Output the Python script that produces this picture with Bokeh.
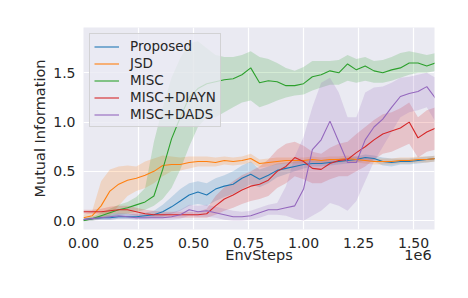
from bokeh.plotting import figure
from bokeh.models import Range1d, FixedTicker, LinearAxis, NumeralTickFormatter
from bokeh.embed import file_html
from bokeh.resources import INLINE

# x in units of 1e6 env steps
steps = [0.00, 0.04, 0.08, 0.12, 0.16, 0.20, 0.24, 0.28, 0.32, 0.36,
         0.40, 0.44, 0.48, 0.52, 0.56, 0.60, 0.64, 0.68, 0.72, 0.76,
         0.80, 0.84, 0.88, 0.92, 0.96, 1.00, 1.04, 1.08, 1.12, 1.16,
         1.20, 1.24, 1.28, 1.32, 1.36, 1.40, 1.44, 1.48, 1.52, 1.56, 1.60]

proposed = [0.01, 0.02, 0.03, 0.03, 0.04, 0.04, 0.04, 0.05, 0.06, 0.09,
            0.14, 0.20, 0.26, 0.29, 0.26, 0.32, 0.35, 0.37, 0.43, 0.47,
            0.42, 0.46, 0.51, 0.53, 0.55, 0.57, 0.58, 0.58, 0.59, 0.60,
            0.61, 0.62, 0.64, 0.63, 0.60, 0.59, 0.60, 0.60, 0.61, 0.62, 0.63]
proposed_lo = [0.00, 0.01, 0.01, 0.01, 0.02, 0.02, 0.02, 0.02, 0.03, 0.04,
               0.07, 0.10, 0.15, 0.17, 0.15, 0.20, 0.24, 0.27, 0.32, 0.37,
               0.34, 0.38, 0.44, 0.47, 0.50, 0.53, 0.55, 0.55, 0.56, 0.57,
               0.58, 0.59, 0.61, 0.60, 0.56, 0.55, 0.57, 0.57, 0.58, 0.59, 0.60]
proposed_hi = [0.02, 0.03, 0.05, 0.06, 0.07, 0.07, 0.07, 0.08, 0.10, 0.16,
               0.24, 0.32, 0.38, 0.40, 0.38, 0.43, 0.46, 0.50, 0.56, 0.60,
               0.52, 0.55, 0.58, 0.59, 0.60, 0.61, 0.61, 0.61, 0.62, 0.63,
               0.64, 0.65, 0.67, 0.66, 0.64, 0.63, 0.63, 0.63, 0.64, 0.65, 0.66]

jsd = [0.03, 0.05, 0.15, 0.30, 0.37, 0.41, 0.43, 0.46, 0.50, 0.56,
       0.57, 0.57, 0.59, 0.60, 0.60, 0.59, 0.61, 0.60, 0.61, 0.63,
       0.58, 0.59, 0.60, 0.61, 0.61, 0.61, 0.62, 0.61, 0.62, 0.62,
       0.63, 0.62, 0.61, 0.60, 0.60, 0.60, 0.61, 0.61, 0.62, 0.62, 0.63]
jsd_lo = [0.00, 0.01, 0.03, 0.05, 0.15, 0.25, 0.30, 0.33, 0.38, 0.45,
          0.50, 0.51, 0.53, 0.55, 0.55, 0.55, 0.57, 0.56, 0.57, 0.59,
          0.54, 0.55, 0.57, 0.58, 0.58, 0.58, 0.59, 0.58, 0.59, 0.59,
          0.60, 0.59, 0.58, 0.57, 0.57, 0.57, 0.58, 0.58, 0.59, 0.59, 0.60]
jsd_hi = [0.06, 0.10, 0.40, 0.52, 0.55, 0.56, 0.55, 0.60, 0.63, 0.66,
          0.65, 0.64, 0.65, 0.65, 0.65, 0.64, 0.65, 0.64, 0.65, 0.68,
          0.62, 0.63, 0.64, 0.64, 0.64, 0.64, 0.65, 0.64, 0.65, 0.65,
          0.66, 0.65, 0.64, 0.63, 0.63, 0.63, 0.64, 0.64, 0.65, 0.65, 0.66]

misc = [0.00, 0.02, 0.05, 0.08, 0.11, 0.13, 0.16, 0.19, 0.25, 0.52,
        0.83, 1.05, 1.25, 1.34, 1.39, 1.41, 1.43, 1.44, 1.48, 1.55,
        1.40, 1.42, 1.41, 1.37, 1.37, 1.39, 1.46, 1.48, 1.52, 1.50,
        1.59, 1.53, 1.57, 1.52, 1.50, 1.53, 1.55, 1.60, 1.60, 1.57, 1.60]
misc_lo = [0.00, 0.00, 0.02, 0.04, 0.06, 0.07, 0.09, 0.11, 0.15, 0.22,
           0.33, 0.52, 0.75, 0.95, 1.05, 1.05, 1.10, 1.15, 1.20, 1.22,
           1.15, 1.18, 1.22, 1.25, 1.27, 1.28, 1.32, 1.35, 1.38, 1.38,
           1.42, 1.40, 1.42, 1.40, 1.40, 1.42, 1.45, 1.48, 1.50, 1.50, 1.52]
misc_hi = [0.02, 0.04, 0.08, 0.12, 0.16, 0.19, 0.24, 0.33, 0.80, 1.15,
           1.45, 1.65, 1.80, 1.82, 1.75, 1.68, 1.66, 1.66, 1.68, 1.72,
           1.66, 1.64, 1.60, 1.55, 1.52, 1.56, 1.62, 1.62, 1.62, 1.63,
           1.68, 1.64, 1.66, 1.62, 1.63, 1.66, 1.70, 1.72, 1.70, 1.68, 1.70]

diayn = [0.09, 0.09, 0.09, 0.10, 0.11, 0.11, 0.09, 0.07, 0.06, 0.06,
         0.06, 0.06, 0.06, 0.06, 0.07, 0.15, 0.22, 0.26, 0.31, 0.35,
         0.37, 0.41, 0.50, 0.55, 0.64, 0.60, 0.53, 0.52, 0.58, 0.61,
         0.62, 0.69, 0.75, 0.82, 0.88, 0.91, 0.94, 1.00, 0.84, 0.90, 0.94]
diayn_lo = [0.07, 0.07, 0.07, 0.07, 0.07, 0.07, 0.05, 0.04, 0.03, 0.03,
            0.03, 0.03, 0.03, 0.03, 0.03, 0.06, 0.10, 0.13, 0.17, 0.20,
            0.22, 0.25, 0.33, 0.38, 0.45, 0.42, 0.38, 0.38, 0.42, 0.45,
            0.45, 0.50, 0.55, 0.62, 0.68, 0.70, 0.74, 0.78, 0.64, 0.70, 0.72]
diayn_hi = [0.11, 0.11, 0.12, 0.14, 0.15, 0.15, 0.13, 0.11, 0.10, 0.09,
            0.09, 0.09, 0.09, 0.09, 0.12, 0.25, 0.34, 0.40, 0.46, 0.50,
            0.55, 0.62, 0.72, 0.78, 0.80, 0.76, 0.70, 0.68, 0.74, 0.78,
            0.80, 0.88, 0.95, 1.02, 1.08, 1.10, 1.14, 1.20, 1.05, 1.12, 1.15]

dads = [0.01, 0.02, 0.03, 0.04, 0.05, 0.04, 0.03, 0.03, 0.03, 0.03,
        0.04, 0.06, 0.11, 0.09, 0.10, 0.08, 0.06, 0.04, 0.04, 0.05,
        0.08, 0.11, 0.11, 0.13, 0.15, 0.32, 0.72, 0.82, 1.01, 0.80,
        0.59, 0.59, 0.82, 0.95, 1.03, 1.15, 1.26, 1.29, 1.31, 1.36, 1.24]
dads_lo = [0.00, 0.00, 0.01, 0.01, 0.02, 0.02, 0.01, 0.01, 0.01, 0.01,
           0.01, 0.02, 0.05, 0.04, 0.04, 0.03, 0.01, 0.00, 0.00, 0.01,
           0.03, 0.06, 0.06, 0.05, 0.02, 0.00, 0.05, 0.10, 0.18, 0.15,
           0.10, 0.20, 0.40, 0.60, 0.75, 0.90, 1.05, 1.10, 1.12, 1.15, 1.00]
dads_hi = [0.02, 0.04, 0.05, 0.07, 0.08, 0.07, 0.06, 0.06, 0.06, 0.07,
           0.08, 0.11, 0.16, 0.15, 0.16, 0.14, 0.12, 0.10, 0.09, 0.10,
           0.13, 0.16, 0.18, 0.35, 0.65, 0.85, 1.15, 1.40, 1.45, 1.30,
           1.05, 1.05, 1.30, 1.35, 1.36, 1.40, 1.45, 1.46, 1.48, 1.50, 1.45]

x_ticks = [0.0, 0.25, 0.5, 0.75, 1.0, 1.25, 1.5]
y_ticks = [0.0, 0.5, 1.0, 1.5]
x_title = "EnvSteps"
x_scale_text = "1e6"
y_title = "Mutual Information"

series = [
    ("Proposed", proposed, proposed_lo, proposed_hi, "#1f77b4"),
    ("JSD", jsd, jsd_lo, jsd_hi, "#ff7f0e"),
    ("MISC", misc, misc_lo, misc_hi, "#2ca02c"),
    ("MISC+DIAYN", diayn, diayn_lo, diayn_hi, "#d62728"),
    ("MISC+DADS", dads, dads_lo, dads_hi, "#9467bd"),
]

FONT = "DejaVu Sans"
TXT = "#262626"
X_MAX = 1.595

p = figure(width=468, height=298, x_range=Range1d(0, X_MAX), y_range=Range1d(-0.09, 1.96),
           output_backend="svg", toolbar_location=None,
           min_border_left=83, min_border_right=34, min_border_top=27, min_border_bottom=69)

p.background_fill_color = "#EAEAF2"
p.border_fill_color = "white"
p.outline_line_color = None

for name, v, lo, hi, c in series:
    p.varea(x=steps, y1=lo, y2=hi, fill_color=c, fill_alpha=0.2)
for name, v, lo, hi, c in series:
    p.line(steps, v, line_color=c, line_width=1.1, legend_label=name)

p.xaxis.ticker = FixedTicker(ticks=x_ticks)
p.yaxis.ticker = FixedTicker(ticks=y_ticks)
p.xaxis.formatter = NumeralTickFormatter(format="0.00")
p.yaxis.formatter = NumeralTickFormatter(format="0.0")

# second row under the x tick labels: axis title centred, offset text at the right end
title_pos = X_MAX / 2
scale_pos = X_MAX - 0.075
title_axis = LinearAxis(ticker=FixedTicker(ticks=[title_pos, scale_pos]),
                        major_label_overrides={title_pos: x_title, scale_pos: x_scale_text})
p.add_layout(title_axis, "below")

for ax in (p.xaxis[0], p.yaxis[0], title_axis):
    ax.axis_line_color = None
    ax.major_tick_line_color = None
    ax.minor_tick_line_color = None
    ax.major_label_text_font = FONT
    ax.major_label_text_font_size = "14px"
    ax.major_label_text_color = TXT
    ax.axis_label_text_font = FONT
    ax.axis_label_text_font_size = "14.5px"
    ax.axis_label_text_font_style = "normal"
    ax.axis_label_text_color = TXT
title_axis.major_label_text_font_size = "14.5px"
p.yaxis.axis_label = y_title
p.xaxis[0].major_label_standoff = 2
title_axis.major_label_standoff = -10
p.yaxis.major_label_standoff = 2
p.yaxis.axis_label_standoff = 2

p.xgrid.grid_line_color = "white"
p.ygrid.grid_line_color = "white"
p.xgrid.grid_line_width = 1.2
p.ygrid.grid_line_width = 1.2
p.xgrid.ticker = FixedTicker(ticks=x_ticks)

lg = p.legend[0]
lg.location = "top_left"
lg.margin = 6
lg.padding = 4
lg.spacing = 1
lg.glyph_width = 25
lg.glyph_height = 15
lg.label_height = 15
lg.label_standoff = 11
lg.label_text_font = FONT
lg.label_text_font_size = "13.5px"
lg.label_text_color = TXT
lg.background_fill_color = "#EAEAF2"
lg.background_fill_alpha = 0.8
lg.border_line_color = "#cccccc"
lg.border_line_alpha = 0.8

open("out.html", "w").write(file_html(p, INLINE))
